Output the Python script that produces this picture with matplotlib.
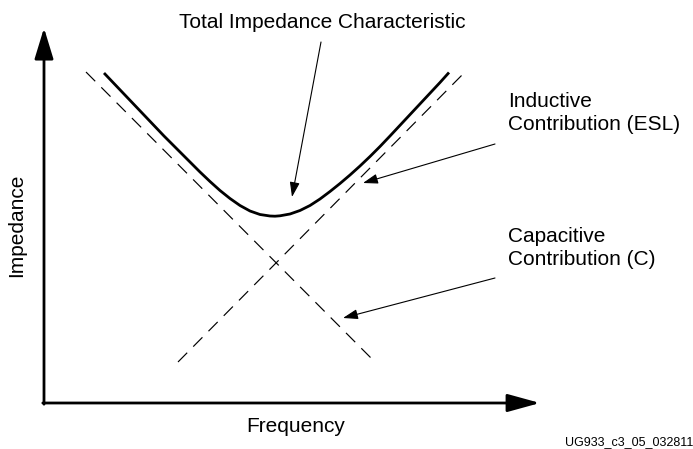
import matplotlib
matplotlib.use("Agg")
import matplotlib.pyplot as plt

plt.rcParams['font.family'] = ['Liberation Sans', 'DejaVu Sans']
plt.rcParams['lines.scale_dashes'] = False

# ---- data (arbitrary frequency / impedance units) ----
cap_freq = [42, 327]
cap_imp = [331, 45]

ind_freq = [134, 421]
ind_imp = [41, 331]

total_freq = [60, 70, 80, 90, 100, 110, 120, 130, 140, 146, 156, 166, 176,
              186, 196, 206, 216, 226, 231, 236, 246, 256, 266, 276, 286,
              296, 306, 316, 326, 336, 346, 356, 366, 376, 386, 396, 405]
total_imp = [330, 319.5, 309, 298.5, 288, 277.5, 267, 257, 247, 241, 231,
             221.5, 212.5, 204.5, 197.5, 192, 188.5, 187, 186.8, 187.2, 189,
             192.5, 197.5, 204, 211.5, 219.5, 228, 237, 246.5, 256.5, 267,
             277.7, 288.4, 299.1, 309.8, 320.5, 330.5]

title_text = "Total Impedance Characteristic"
ind_label = "Inductive\nContribution (ESL)"
cap_label = "Capacitive\nContribution (C)"
x_label = "Frequency"
y_label = "Impedance"
fig_id = "UG933_c3_05_032811"

# ---- figure ----
fig = plt.figure(figsize=(6.93, 4.49), dpi=100)
ax = fig.add_axes([0, 0, 1, 1])
ax.set_xlim(-44, 649)
ax.set_ylim(-46, 403)
ax.axis('off')

# axes with arrows
ax.annotate("", xy=(0, 375), xytext=(0, -1.2),
            arrowprops=dict(arrowstyle="-|>,head_length=1.9,head_width=0.58",
                            mutation_scale=10, lw=2, color='black',
                            shrinkA=0, shrinkB=0))
ax.annotate("", xy=(496, 0), xytext=(-1.2, 0),
            arrowprops=dict(arrowstyle="-|>,head_length=2.0,head_width=0.55",
                            mutation_scale=10, lw=2, color='black',
                            shrinkA=0, shrinkB=0))

# dashed asymptotes
ax.plot(cap_freq, cap_imp, color='black', lw=0.85, linestyle=(0, (9.4, 6.2)))
ax.plot(ind_freq, ind_imp, color='black', lw=0.85, linestyle=(0, (9.4, 6.2)))

# total impedance curve
ax.plot(total_freq, total_imp, color='black', lw=2.0,
        solid_joinstyle='round', solid_capstyle='butt')

# annotations
arrow_kw = dict(arrowstyle="-|>,head_length=0.9,head_width=0.3",
                mutation_scale=10, lw=0.8, color='black',
                shrinkA=0, shrinkB=0)
ax.text(278, 375, title_text, ha='center', va='baseline', fontsize=15)
ax.annotate("", xy=(248, 206), xytext=(277, 361), arrowprops=arrow_kw)

ax.text(464, 273, ind_label, ha='left', va='baseline', fontsize=15,
        linespacing=1.25)
ax.annotate("", xy=(319, 220), xytext=(451, 259), arrowprops=arrow_kw)

ax.text(464, 138, cap_label, ha='left', va='baseline', fontsize=15,
        linespacing=1.25)
ax.annotate("", xy=(299, 85), xytext=(451, 125), arrowprops=arrow_kw)

ax.text(252, -24, x_label, ha='center', va='center', fontsize=15)
ax.text(-27, 178, y_label, ha='center', va='center', fontsize=15,
        rotation=90)
ax.text(649, -42, fig_id, ha='right', va='baseline', fontsize=9)

fig.savefig("out.png", dpi=100)
